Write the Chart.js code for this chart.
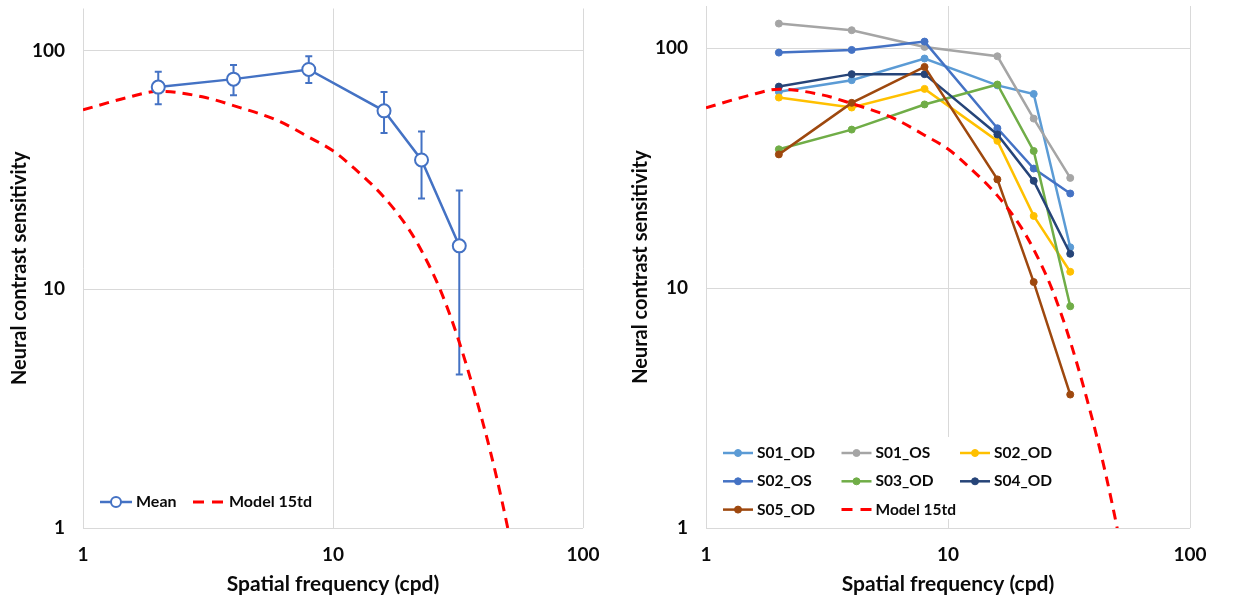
<!DOCTYPE html>
<html>
<head>
<meta charset="utf-8">
<script src="https://cdn.jsdelivr.net/npm/chart.js@4.4.0/dist/chart.umd.min.js"></script>
<style>
  body { margin: 0; background: #fff; }
  .panel { position: absolute; top: 0; width: 617px; height: 603px; }
  #gauche { left: 0; }
  #droite { left: 617px; }
</style>
</head>
<body>
<div class="panel" id="gauche"><canvas id="meanChart" width="617" height="603"></canvas></div>
<div class="panel" id="droite"><canvas id="subjChart" width="617" height="603"></canvas></div>
<script>
// spatial frequencies (cpd)
const frequencies = [2, 4, 8, 16, 22.6, 32];
const xTicks = [1, 10, 100];
const yTicks = [1, 10, 100];

// mean neural CSF + error bars
const meanValues  = [70.3, 75.9, 83.3, 55.9, 34.8, 15.2];
const meanErrHigh = [81.5, 86.9, 94.7, 67.0, 45.8, 25.9];
const meanErrLow  = [59.6, 64.9, 73.1, 45.1, 24.0, 4.4];

// model curve, 15 td
const modelFreq   = [1, 1.5, 2, 3, 4, 6, 8, 10, 12, 16, 20, 22.6, 26.8, 32, 40, 45, 50, 55];
const modelValues = [56.4, 63.5, 67.5, 64, 58.8, 50.9, 43.4, 38, 32.5, 24.3, 18, 14.5, 10, 6.0, 2.7, 1.65, 1.0, 0.6];

// individual subjects
const subjectNames = ['S01_OD', 'S01_OS', 'S02_OD', 'S02_OS', 'S03_OD', 'S04_OD', 'S05_OD'];
const s01OD = [65.8, 73.6, 90.6, 70.0, 64.5, 14.8];
const s01OS = [126.7, 118.9, 101.3, 92.6, 50.9, 28.8];
const s02OD = [62.3, 56.6, 67.7, 41.1, 20.0, 11.7];
const s02OS = [95.9, 98.4, 106.6, 46.4, 31.5, 24.8];
const s03OD = [37.9, 45.8, 58.3, 70.6, 37.3, 8.4];
const s04OD = [69.2, 78.0, 78.0, 43.7, 28.0, 13.9];
const s05OD = [36.1, 59.2, 83.6, 28.4, 10.6, 3.6];
const subjectValues = [s01OD, s01OS, s02OD, s02OS, s03OD, s04OD, s05OD];
const subjectColors = ['#5B9BD5', '#A5A5A5', '#FFC000', '#4472C4', '#70AD47', '#264478', '#9E480E'];

const FONT = 'Lato, "Liberation Sans", sans-serif';
const INK = '#0a0a0a';

function points(xs, ys) {
  return xs.map((x, i) => ({ x: x, y: ys[i] }));
}

function modelDataset() {
  return {
    label: 'Model 15td',
    data: points(modelFreq, modelValues),
    borderColor: '#FF0000',
    borderWidth: 3,
    borderDash: [10, 7],
    pointRadius: 0,
    cubicInterpolationMode: 'monotone',
    order: 10
  };
}

function scalesFor(yWidth, yTitlePad) {
  return {
    x: {
      type: 'logarithmic', min: 1, max: 100,
      afterBuildTicks: s => { s.ticks = xTicks.map(v => ({ value: v })); },
      afterFit: s => { s.height = 75; s.paddingLeft = 0; s.paddingRight = 0; },
      ticks: { autoSkip: false, maxRotation: 0, padding: 15, color: INK,
               font: { family: FONT, size: 19, weight: 'bold' },
               callback: v => String(v) },
      grid: { color: '#d9d9d9', lineWidth: 1, drawTicks: false },
      border: { display: false },
      title: { display: true, text: 'Spatial frequency (cpd)', color: INK,
               font: { family: FONT, size: 21, weight: 'bold' },
               padding: { top: 0, bottom: 6 } }
    },
    y: {
      type: 'logarithmic', min: 1, max: 150,
      afterBuildTicks: s => { s.ticks = yTicks.map(v => ({ value: v })); },
      afterFit: s => { s.width = yWidth; s.paddingTop = 0; s.paddingBottom = 0; },
      ticks: { autoSkip: false, padding: 18, color: INK,
               font: { family: FONT, size: 19, weight: 'bold' },
               callback: v => String(v) },
      grid: { color: '#d9d9d9', lineWidth: 1, drawTicks: false },
      border: { display: false },
      title: { display: true, text: 'Neural contrast sensitivity', color: INK,
               font: { family: FONT, size: 20, weight: 'bold' },
               padding: { top: yTitlePad, bottom: 0 } }
    }
  };
}

// error bars of the mean, drawn under the markers
const errorBars = {
  id: 'errorBars',
  beforeDatasetsDraw(chart) {
    const xs = chart.scales.x, ys = chart.scales.y, c = chart.ctx;
    c.save();
    c.strokeStyle = '#4472C4';
    c.lineWidth = 2;
    frequencies.forEach((f, i) => {
      const px = xs.getPixelForValue(f);
      const top = ys.getPixelForValue(meanErrHigh[i]);
      const bot = ys.getPixelForValue(meanErrLow[i]);
      c.beginPath();
      c.moveTo(px, top); c.lineTo(px, bot);
      c.moveTo(px - 3.5, top); c.lineTo(px + 3.5, top);
      c.moveTo(px - 3.5, bot); c.lineTo(px + 3.5, bot);
      c.stroke();
    });
    c.restore();
  }
};

// legend drawn inside the plot, in a grid
function gridLegend(cfg) {
  return {
    id: 'gridLegend',
    afterDraw(chart) {
      const c = chart.ctx, area = chart.chartArea;
      c.save();
      if (cfg.box) {
        c.fillStyle = '#fff';
        c.fillRect(area.left + cfg.box[0], area.bottom - cfg.box[1], cfg.box[2], cfg.box[3]);
      }
      chart.data.datasets.forEach((ds, i) => {
        const col = i % cfg.cols, row = Math.floor(i / cfg.cols);
        const lx = area.left + cfg.x0 + col * cfg.colW;
        const ly = area.bottom - cfg.y0 + row * cfg.rowH;
        c.strokeStyle = ds.borderColor;
        c.lineWidth = ds.borderWidth;
        c.setLineDash(ds.borderDash ? [11, 8] : []);
        c.beginPath(); c.moveTo(lx, ly); c.lineTo(lx + cfg.len, ly); c.stroke();
        c.setLineDash([]);
        if (ds.pointRadius > 0) {
          c.beginPath();
          c.arc(lx + cfg.len / 2, ly, cfg.markerR, 0, Math.PI * 2);
          c.fillStyle = ds.pointBackgroundColor;
          c.fill();
          c.lineWidth = ds.pointBorderWidth;
          c.strokeStyle = ds.pointBorderColor;
          c.stroke();
        }
        c.fillStyle = INK;
        c.font = 'bold ' + cfg.fontSize + 'px ' + FONT;
        c.textBaseline = 'middle';
        c.textAlign = 'left';
        c.fillText(ds.label, lx + cfg.gap, ly);
      });
      c.restore();
    }
  };
}

// left panel: mean
new Chart(document.getElementById('meanChart'), {
  type: 'line',
  data: {
    datasets: [{
      label: 'Mean',
      data: points(frequencies, meanValues),
      borderColor: '#4472C4',
      borderWidth: 2.5,
      pointRadius: 6.5,
      pointBackgroundColor: '#fff',
      pointBorderColor: '#4472C4',
      pointBorderWidth: 2,
      order: 0
    }, modelDataset()]
  },
  options: {
    responsive: false,
    animation: false,
    layout: { padding: { top: 6, right: 34, left: 0, bottom: 0 } },
    plugins: { legend: { display: false }, tooltip: { enabled: false } },
    scales: scalesFor(83, 8)
  },
  plugins: [errorBars, gridLegend({ cols: 2, x0: 17, y0: 26, colW: 93, rowH: 0, len: 32, gap: 36,
                                    markerR: 5, fontSize: 16 })]
});

// right panel: subjects
const subjDatasets = subjectNames.map((name, i) => ({
  label: name,
  data: points(frequencies, subjectValues[i]),
  borderColor: subjectColors[i],
  borderWidth: 2.5,
  pointRadius: 3.5,
  pointBackgroundColor: subjectColors[i],
  pointBorderColor: subjectColors[i],
  pointBorderWidth: 1,
  order: 9 - i
}));
subjDatasets.push(Object.assign(modelDataset(), { order: 0 }));

new Chart(document.getElementById('subjChart'), {
  type: 'line',
  data: { datasets: subjDatasets },
  options: {
    responsive: false,
    animation: false,
    layout: { padding: { top: 6, right: 44, left: 0, bottom: 0 } },
    plugins: { legend: { display: false }, tooltip: { enabled: false } },
    scales: scalesFor(89, 12)
  },
  plugins: [gridLegend({ cols: 3, x0: 17, y0: 75, colW: 118.5, rowH: 28.3, len: 30, gap: 34, markerR: 3.5,
                         fontSize: 15.5, box: [6, 91, 345, 82] })]
});
</script>
</body>
</html>
